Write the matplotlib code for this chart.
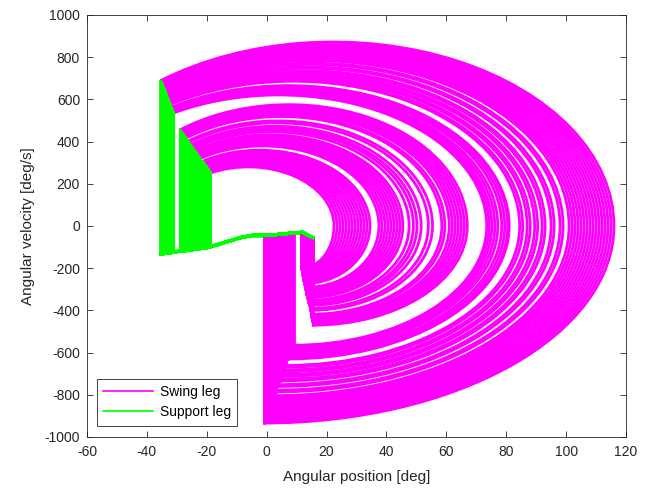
import matplotlib
matplotlib.use('Agg')

import numpy as np
import matplotlib.pyplot as plt
from matplotlib.patches import Arc
from matplotlib.lines import Line2D

plt.rcParams['font.family'] = ['Liberation Sans', 'DejaVu Sans']
plt.rcParams['axes.unicode_minus'] = False

# max swing angle of every step (where the swing curve crosses 0 deg/s)
inner_peak = [22.5, 23.5, 24.5, 25.5, 26.5, 27.5, 28.5, 29.5, 30.5, 31.5, 32.5, 33.5, 34.5,
              37.5, 38.5, 39.5, 40.5, 41.5, 42.5, 43.5, 44.5, 45.5, 47.6, 49.0, 50.2, 51.6,
              54.0, 55.4, 58.5, 59.5, 61.0, 62.0, 63.0, 64.0, 65.0, 66.0, 67.0]
outer_peak = [73.5, 74.3, 75.2, 76.2, 77.2, 78.5, 79.5, 80.5, 81.0, 84.5, 85.5, 87.0, 88.0,
              89.5, 90.5, 92.0, 93.0, 95.0, 96.0, 98.0, 99.0, 101.0, 102.0, 103.0, 104.0,
              105.0, 106.0, 107.0, 108.0, 109.0, 110.0, 111.0, 112.0, 113.0, 114.0, 115.0, 116.0]

# band edges (innermost / outermost step of each band)
edge_peak = [22.5, 67.0, 73.5, 116.0]
edge_x_start = [-18.8, -29.0, -31.2, -35.5]   # swing starts (after impact)
edge_v_start = [251, 455, 535, 688]
edge_v_top = [280, 575, 621, 872]             # highest velocity of the swing
edge_x_end = [11.5, 15.5, 9.0, -1.0]          # swing ends (impact)
edge_v_end = [-200, -470, -565, -934]

# support leg path (shared by all steps)
support_x = [-36, -31, -25.5, -19, -14.5, -8.7, -5, -1, 4, 9, 12, 15.8]
support_v = [-133, -123, -113, -100, -80, -55, -45, -45, -40, -33, -30, -58]

swing_col = '#FF00FF'
support_col = '#00FF00'

fig = plt.figure(figsize=(6.49, 4.93), dpi=100)
ax = fig.add_axes([0.134, 0.1136, 0.8305, 0.856])

peaks = inner_peak + outer_peak
xs_all = np.interp(peaks, edge_peak, edge_x_start)
vs_all = np.interp(peaks, edge_peak, edge_v_start)
vt_all = np.interp(peaks, edge_peak, edge_v_top)
xe_all = np.interp(peaks, edge_peak, edge_x_end)
ve_all = np.interp(peaks, edge_peak, edge_v_end)

# swing leg
lw_sw = 2.0
for xp, xs, vs, vt, xe, ve in zip(peaks, xs_all, vs_all, vt_all, xe_all, ve_all):
    u = np.sqrt(1 - (vs / vt) ** 2)
    xc = (xs + u * xp) / (1 + u)
    th = np.degrees(np.arctan2(vs, xs - xc))
    ax.add_patch(Arc((xc, 0), 2 * (xp - xc), 2 * vt, theta1=0, theta2=th,
                     color=swing_col, lw=lw_sw, zorder=2))
    ax.add_patch(Arc((xe, 0), 2 * (xp - xe), -2 * ve, theta1=270, theta2=360,
                     color=swing_col, lw=lw_sw, zorder=2))
    ax.plot([xe, xe], [ve, np.interp(xe, support_x, support_v)],
            color=swing_col, lw=lw_sw, zorder=2)

# support leg
sx = np.array(support_x)
sv = np.array(support_v)
for xs, vs, xe in zip(xs_all, vs_all, xe_all):
    m = (sx > xs) & (sx < xe)
    px = np.concatenate([[xe], sx[m][::-1], [xs]])
    pv = np.concatenate([[np.interp(xe, sx, sv)], sv[m][::-1], [np.interp(xs, sx, sv)]])
    ax.plot(px, pv, color=support_col, lw=2.2, zorder=3)
    ax.plot([xs, xs], [pv[-1], vs], color=support_col, lw=lw_sw, zorder=3)

ax.set_xlim(-60, 120)
ax.set_ylim(-1000, 1000)
ax.set_xticks(np.arange(-60, 121, 20))
ax.set_yticks(np.arange(-1000, 1001, 200))
ax.tick_params(direction='in', top=True, right=True, labelsize=10, colors='#262626',
               length=4, width=0.6)
ax.tick_params(axis='x', pad=6)
ax.tick_params(axis='y', pad=5)
for s in ax.spines.values():
    s.set_color('#262626')
    s.set_linewidth(0.6)
ax.set_xlabel('Angular position [deg]', fontsize=11, color='#262626', labelpad=8)
ax.set_ylabel('Angular velocity [deg/s]', fontsize=11, color='#262626', labelpad=7)

handles = [Line2D([], [], color=swing_col, lw=1.2),
           Line2D([], [], color=support_col, lw=1.2)]
leg = ax.legend(handles, ['Swing leg', 'Support leg'], loc='lower left',
                bbox_to_anchor=(0.018, 0.027), borderaxespad=0, fontsize=10,
                fancybox=False, framealpha=1, edgecolor='#262626', handlelength=3.6,
                handletextpad=0.5, borderpad=0.45, labelspacing=0.45)
leg.get_frame().set_linewidth(0.6)

fig.savefig('out.png', dpi=100)
